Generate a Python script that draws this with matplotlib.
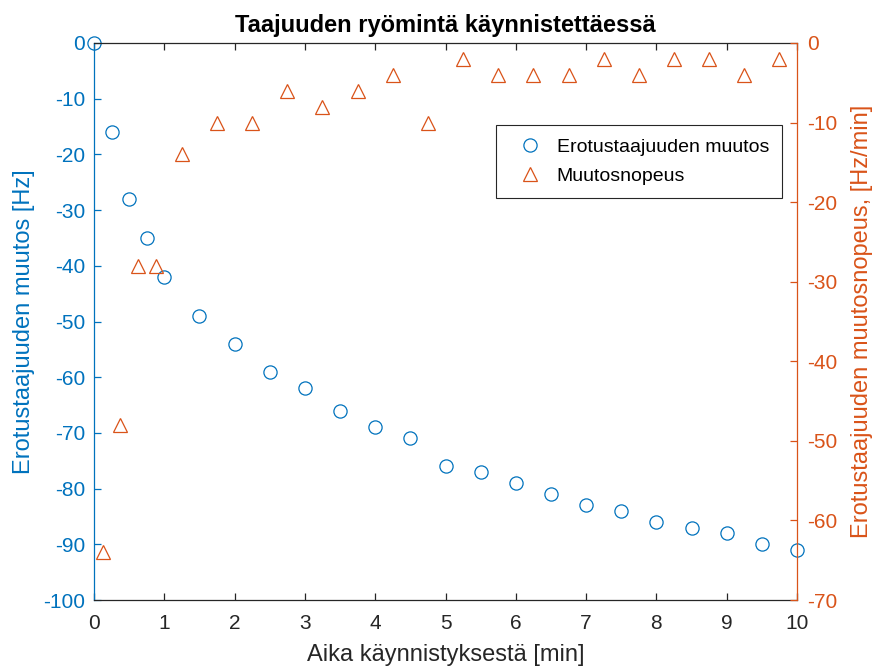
import matplotlib.pyplot as plt
import numpy as np

plt.rcParams["font.family"] = ["Liberation Sans", "DejaVu Sans"]
plt.rcParams["axes.unicode_minus"] = False

BLUE = "#0072BD"
ORANGE = "#D95319"
AXIS_GRAY = "#262626"

# Frequency deviation samples [min], [Hz]
time_min = [0, 0.25, 0.5, 0.75, 1, 1.5, 2, 2.5, 3, 3.5, 4, 4.5, 5, 5.5,
            6, 6.5, 7, 7.5, 8, 8.5, 9, 9.5, 10]
freq_change = [0, -16, -28, -35, -42, -49, -54, -59, -62, -66, -69, -71,
               -76, -77, -79, -81, -83, -84, -86, -87, -88, -90, -91]

# Rate of change at interval midpoints [min], [Hz/min]
rate_time = [0.125, 0.375, 0.625, 0.875, 1.25, 1.75, 2.25, 2.75, 3.25,
             3.75, 4.25, 4.75, 5.25, 5.75, 6.25, 6.75, 7.25, 7.75, 8.25,
             8.75, 9.25, 9.75]
rate = [-64, -48, -28, -28, -14, -10, -10, -6, -8, -6, -4, -10, -2, -4,
        -4, -4, -2, -4, -2, -2, -4, -2]

fig = plt.figure(figsize=(8.75, 6.68), dpi=100)
ax = fig.add_axes([94 / 875, 1 - 600 / 668, (797 - 94) / 875, (600 - 43) / 668])
ax2 = ax.twinx()

h1, = ax.plot(time_min, freq_change, linestyle="none", marker="o",
              markersize=9.5, markerfacecolor="none", markeredgecolor=BLUE,
              markeredgewidth=0.9, label="Erotustaajuuden muutos", clip_on=False)
h2, = ax2.plot(rate_time, rate, linestyle="none", marker="^",
               markersize=10.5, markerfacecolor="none", markeredgecolor=ORANGE,
               markeredgewidth=0.9, label="Muutosnopeus", clip_on=False)

ax.set_xlim(0, 10)
ax.set_ylim(-100, 0)
ax2.set_ylim(-70, 0)
ax.set_xticks(np.arange(0, 11, 1))
ax.set_yticks(np.arange(-100, 1, 10))
ax2.set_yticks(np.arange(-70, 1, 10))

for spine in ("top", "bottom"):
    ax.spines[spine].set_color(AXIS_GRAY)
    ax2.spines[spine].set_visible(False)
ax.spines["left"].set_color(BLUE)
ax.spines["right"].set_visible(False)
ax2.spines["left"].set_visible(False)
ax2.spines["right"].set_color(ORANGE)
for a in (ax, ax2):
    for s in a.spines.values():
        s.set_linewidth(0.9)

ax.tick_params(axis="x", direction="in", length=5, width=0.9, colors=AXIS_GRAY,
               labelsize=15, top=True, pad=10)
ax.tick_params(axis="y", direction="in", length=5, width=0.9, colors=BLUE,
               labelsize=15, pad=6.5)
ax2.tick_params(axis="y", direction="in", length=5, width=0.9, colors=ORANGE,
                labelsize=15, pad=7)

ax.set_xlabel("Aika käynnistyksestä [min]", fontsize=17, color=AXIS_GRAY,
              labelpad=8)
ax.set_ylabel("Erotustaajuuden muutos [Hz]", fontsize=17, color=BLUE,
              labelpad=6)
ax2.set_ylabel("Erotustaajuuden muutosnopeus, [Hz/min]", fontsize=17,
               color=ORANGE, labelpad=10)
ax.set_title("Taajuuden ryömintä käynnistettäessä", fontsize=17,
             fontweight="bold", pad=8)

# Legend box pinned inside the upper right of the plot area
leg = ax2.legend(handles=[h1, h2], loc="upper right",
                 bbox_to_anchor=(0.979, 0.853), borderaxespad=0,
                 fontsize=14, fancybox=False, framealpha=1,
                 edgecolor=AXIS_GRAY, borderpad=0.67, handlelength=2.16,
                 handletextpad=0.31, labelspacing=0.62)
leg.get_frame().set_linewidth(0.8)

fig.savefig("out.png", dpi=100)
